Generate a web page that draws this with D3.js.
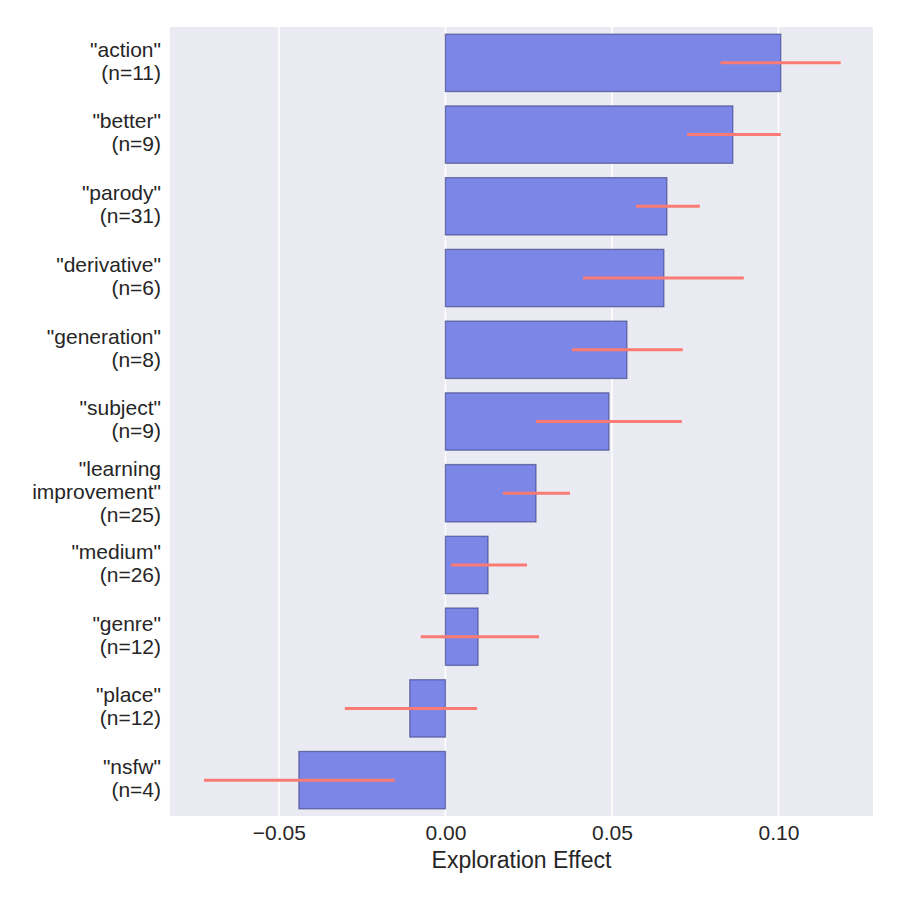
<!DOCTYPE html>
<html>
<head>
<meta charset="utf-8">
<script src="https://cdn.jsdelivr.net/npm/d3@7"></script>
<style>
  body { margin: 0; background: #fff; }
  text { font-family: "Liberation Sans", Arial, sans-serif; fill: #262626; }
</style>
</head>
<body>
<div id="chart"></div>
<script>
// Term labels (one entry per line of the tick label)
const terms = [
  ['"action"', '(n=11)'],
  ['"better"', '(n=9)'],
  ['"parody"', '(n=31)'],
  ['"derivative"', '(n=6)'],
  ['"generation"', '(n=8)'],
  ['"subject"', '(n=9)'],
  ['"learning', 'improvement"', '(n=25)'],
  ['"medium"', '(n=26)'],
  ['"genre"', '(n=12)'],
  ['"place"', '(n=12)'],
  ['"nsfw"', '(n=4)']
];
const effects = [0.1007, 0.0863, 0.0665, 0.0656, 0.0545, 0.0491, 0.0272, 0.0128, 0.0098, -0.0107, -0.0440];
const ciLow   = [0.0826, 0.0726, 0.0572, 0.0413, 0.0380, 0.0272, 0.0173, 0.0017, -0.0074, -0.0302, -0.0725];
const ciHigh  = [0.1187, 0.1007, 0.0764, 0.0896, 0.0713, 0.0710, 0.0374, 0.0245, 0.0281, 0.0095, -0.0152];
const xTicks  = [-0.05, 0, 0.05, 0.10];

const margin = { top: 27, right: 27, bottom: 84, left: 170 };
const width = 900 - margin.left - margin.right;
const height = 900 - margin.top - margin.bottom;

const svg = d3.select("#chart")
  .append("svg")
  .attr("width", 900)
  .attr("height", 900);

const g = svg.append("g")
  .attr("transform", `translate(${margin.left},${margin.top})`);

const x = d3.scaleLinear()
  .domain([-0.0827, 0.1284])
  .range([0, width]);

const y = d3.scaleBand()
  .domain(d3.range(terms.length))
  .range([0, height])
  .paddingInner(0.2)
  .paddingOuter(0.1);

// background
g.append("rect")
  .attr("width", width)
  .attr("height", height)
  .attr("fill", "#eaeaf2");

// vertical grid
g.selectAll(".grid")
  .data(xTicks)
  .enter()
  .append("line")
  .attr("x1", d => x(d))
  .attr("x2", d => x(d))
  .attr("y1", 0)
  .attr("y2", height)
  .attr("stroke", "#fff")
  .attr("stroke-width", 1.5);

// bars
g.selectAll(".bar")
  .data(effects)
  .enter()
  .append("rect")
  .attr("x", d => x(Math.min(0, d)))
  .attr("y", (d, i) => y(i))
  .attr("width", d => Math.abs(x(d) - x(0)))
  .attr("height", y.bandwidth())
  .attr("fill", "#7b86e6")
  .attr("stroke", "rgba(40,45,110,0.55)")
  .attr("stroke-width", 1.3);

// confidence intervals
g.selectAll(".ci")
  .data(effects)
  .enter()
  .append("line")
  .attr("x1", (d, i) => x(ciLow[i]))
  .attr("x2", (d, i) => x(ciHigh[i]))
  .attr("y1", (d, i) => y(i) + y.bandwidth() / 2)
  .attr("y2", (d, i) => y(i) + y.bandwidth() / 2)
  .attr("stroke", "#fa7b74")
  .attr("stroke-width", 3);

// x axis
const xAxis = g.append("g")
  .attr("transform", `translate(0,${height})`)
  .call(d3.axisBottom(x).tickValues(xTicks).tickFormat(d3.format(".2f")).tickSize(0).tickPadding(9));
xAxis.select(".domain").remove();
xAxis.selectAll("text")
  .attr("font-size", 21)
  .attr("fill", "#262626")
  .style("font-family", '"Liberation Sans", Arial, sans-serif');

// y labels
const lineH = 23;
const yLab = g.selectAll(".ylab")
  .data(terms)
  .enter()
  .append("text")
  .attr("text-anchor", "end")
  .attr("font-size", 21)
  .attr("transform", (d, i) => `translate(-9,${y(i) + y.bandwidth() / 2 - 2})`);
yLab.selectAll("tspan")
  .data(d => d.map((t, k) => ({ t, k, n: d.length })))
  .enter()
  .append("tspan")
  .attr("x", 0)
  .attr("y", d => (d.k - (d.n - 1) / 2) * lineH)
  .attr("dy", "0.35em")
  .text(d => d.t);

// axis title
svg.append("text")
  .attr("x", margin.left + width / 2)
  .attr("y", 868)
  .attr("text-anchor", "middle")
  .attr("font-size", 23)
  .text("Exploration Effect");
</script>
</body>
</html>
